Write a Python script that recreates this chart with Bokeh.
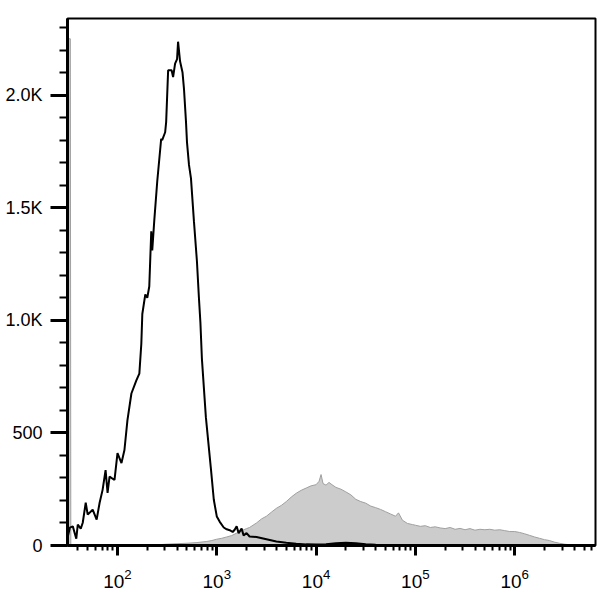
import numpy as np
from bokeh.plotting import figure
from bokeh.models import FixedTicker, Range1d, LogTickFormatter
from bokeh.embed import file_html
from bokeh.resources import INLINE

# ---- data (log10 of fluorescence channel, event counts) ----
black_log = [1.50, 1.52, 1.55, 1.585, 1.60, 1.63, 1.65, 1.68, 1.70, 1.75,
             1.79, 1.82, 1.85, 1.88, 1.90, 1.92, 1.97, 2.00, 2.04, 2.07,
             2.10, 2.14, 2.19, 2.22, 2.24, 2.25, 2.28, 2.30, 2.32, 2.34,
             2.35, 2.37, 2.40, 2.44, 2.45, 2.48, 2.49, 2.51, 2.545, 2.56,
             2.58, 2.60, 2.61, 2.63, 2.655, 2.67, 2.69, 2.70, 2.72, 2.74,
             2.77, 2.80, 2.82, 2.835, 2.85, 2.89, 2.94, 2.97, 3.00, 3.03,
             3.07, 3.10, 3.13, 3.16, 3.18, 3.20, 3.22, 3.25, 3.27, 3.30,
             3.33, 3.40, 3.50, 3.60, 3.70, 3.80, 3.90, 4.00, 4.10, 4.20,
             4.30, 4.40, 4.50, 4.60, 4.70, 4.80, 5.00]
black_count = [40, 79, 85, 30, 93, 75, 101, 190, 137, 159,
               115, 190, 247, 335, 234, 306, 291, 410, 366, 424,
               556, 675, 733, 763, 896, 1028, 1115, 1100, 1150, 1395,
               1310, 1440, 1615, 1806, 1800, 1835, 1880, 2110, 2110, 2080,
               2140, 2160, 2237, 2150, 2100, 2025, 1880, 1790, 1690, 1630,
               1439, 1262, 1100, 990, 830, 570, 345, 203, 129, 105,
               80, 72, 68, 60, 70, 85, 55, 75, 45, 55,
               40, 38, 28, 18, 12, 8, 5, 4, 6, 10,
               12, 10, 6, 3, 2, 1, 0]

gray_log = [1.51, 1.525, 1.53, 2.30, 2.40, 2.50, 2.60, 2.70, 2.80, 2.90,
            2.95, 3.00, 3.05, 3.10, 3.15, 3.20, 3.25, 3.30, 3.33,
            3.40, 3.45, 3.50, 3.55, 3.60, 3.65, 3.70, 3.75, 3.80, 3.85, 3.90, 3.95, 4.00,
            4.03, 4.05, 4.07, 4.10, 4.13, 4.16,
            4.20, 4.25, 4.30, 4.35, 4.40, 4.45, 4.50, 4.55, 4.60, 4.65, 4.70, 4.75, 4.80,
            4.83, 4.87, 4.92, 4.97,
            5.00, 5.05, 5.10, 5.15, 5.20, 5.25, 5.30, 5.35, 5.40, 5.45,
            5.50, 5.55, 5.60, 5.65, 5.70, 5.75, 5.80, 5.85, 5.90, 5.95,
            6.00, 6.05, 6.10, 6.15, 6.20, 6.25, 6.30, 6.35, 6.40, 6.45,
            6.50, 6.55, 6.60, 6.65, 6.81]
gray_count = [2250, 2250, 0, 0, 3, 6, 8, 10, 13, 18,
              22, 28, 32, 38, 44, 55, 66, 75, 80,
              100, 118, 130, 148, 165, 178, 195, 215, 232, 245, 255, 265, 270,
              285, 315, 275, 268, 280, 270,
              258, 250, 238, 225, 205, 195, 188, 175, 168, 160, 150, 140, 130,
              145, 112, 98, 93,
              90, 85, 88, 80, 83, 78, 75, 80, 72, 76,
              70, 75, 68, 72, 70, 72, 68, 70, 66, 62,
              62, 58, 52, 45, 38, 32, 26, 22, 15, 10,
              6, 3, 1, 0, 0]

x_major = [1e2, 1e3, 1e4, 1e5, 1e6]
y_major = [0, 500, 1000, 1500, 2000]
y_labels = ["0", "500", "1.0K", "1.5K", "2.0K"]
y_minor = list(range(0, 2400, 100))
x_minor = [m * 10 ** e for e in range(1, 7) for m in range(2, 10)]

x_lo, x_hi = 10 ** 1.4965, 10 ** 6.814
y_lo, y_hi = 0, 2340

p = figure(width=601, height=590, x_axis_type="log",
           x_range=Range1d(x_lo, x_hi), y_range=Range1d(y_lo, y_hi),
           output_backend="svg", toolbar_location=None,
           min_border_left=67, min_border_right=6,
           min_border_top=18, min_border_bottom=43)
p.grid.visible = False
p.outline_line_color = "black"
p.outline_line_width = 2
p.background_fill_color = "white"
p.border_fill_color = "white"

gx = 10 ** np.array(gray_log)
bx = 10 ** np.array(black_log)
p.varea(x=gx, y1=np.zeros(len(gx)), y2=gray_count, fill_color="#cccccc")
p.line(gx, gray_count, line_color="#a0a0a0", line_width=1)
p.line(bx, black_count, line_color="black", line_width=2)

font = "Liberation Sans"
xa = p.xaxis[0]
xa.ticker = FixedTicker(ticks=x_major, minor_ticks=x_minor)
xa.formatter = LogTickFormatter()
xa.axis_line_width = 3
xa.major_tick_line_width = 3
xa.major_tick_in = 0
xa.major_tick_out = 10
xa.minor_tick_in = 0
xa.minor_tick_out = 5
xa.minor_tick_line_width = 2
xa.major_label_text_font = font
xa.major_label_text_font_size = "19px"
xa.major_label_text_color = "black"
xa.major_label_standoff = 13

ya = p.yaxis[0]
ya.ticker = FixedTicker(ticks=y_major, minor_ticks=y_minor)
ya.major_label_overrides = {v: s for v, s in zip(y_major, y_labels)}
ya.axis_line_width = 3
ya.major_tick_line_width = 3
ya.major_tick_in = 0
ya.major_tick_out = 17
ya.minor_tick_in = 0
ya.minor_tick_out = 8
ya.minor_tick_line_width = 2
ya.major_label_text_font = font
ya.major_label_text_font_size = "18px"
ya.major_label_text_color = "black"
ya.major_label_standoff = 8

open("out.html", "w").write(file_html(p, INLINE))
